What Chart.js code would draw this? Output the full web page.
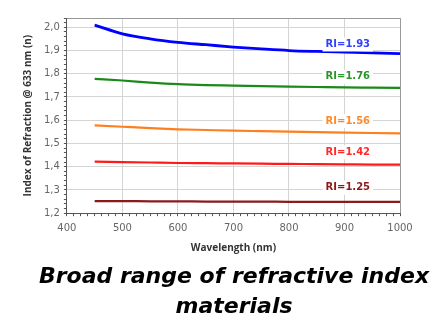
<!DOCTYPE html>
<html>
<head>
<meta charset="utf-8">
<script src="https://cdn.jsdelivr.net/npm/chart.js@4"></script>
<style>
  html, body { margin: 0; padding: 0; background: #fff; }
  #wrap { width: 446px; height: 327px; }
</style>
</head>
<body>
<div id="wrap"><canvas id="riChart" width="446" height="327"></canvas></div>
<script>
// wavelength (nm)
const wavelength = [450, 500, 550, 600, 650, 700, 750, 800, 850, 900, 950, 1000];

// refractive index per material
const ri193 = [2.009, 1.972, 1.950, 1.935, 1.925, 1.915, 1.907, 1.900, 1.896, 1.893, 1.890, 1.887];
const ri176 = [1.778, 1.771, 1.762, 1.755, 1.751, 1.749, 1.747, 1.745, 1.743, 1.741, 1.740, 1.739];
const ri156 = [1.578, 1.572, 1.566, 1.561, 1.558, 1.555, 1.553, 1.551, 1.549, 1.547, 1.545, 1.543];
const ri142 = [1.422, 1.420, 1.418, 1.416, 1.415, 1.414, 1.413, 1.412, 1.411, 1.410, 1.409, 1.409];
const ri125 = [1.252, 1.252, 1.251, 1.251, 1.250, 1.250, 1.250, 1.249, 1.249, 1.249, 1.249, 1.249];

// labels next to the curves: text, wavelength, index
const seriesLabels = ['RI=1.93', 'RI=1.76', 'RI=1.56', 'RI=1.42', 'RI=1.25'];
const labelX = [906, 906, 906, 906, 906];
const labelY = [1.926, 1.787, 1.597, 1.462, 1.31];

const colors = ['#0000ff', '#1a8a1a', '#ff7f1e', '#ff1a1a', '#8b1a1a'];
const labelColors = ['#3340ff', '#2a952a', '#ff8a2a', '#ff2a2a', '#8b1a1a'];

const toPts = arr => arr.map((v, i) => ({ x: wavelength[i], y: v }));

// ticks (major + minor)
const yTicks = [];
for (let i = 120; i <= 204; i += 2) yTicks.push({ value: i / 100 });
const xTicks = [];
for (let i = 0; i <= 48; i++) xTicks.push({ value: 400 + i * 12.5 });

// gray frame on top and right
const frameBorder = {
    id: 'frameBorder',
    beforeDatasetsDraw(chart) {
        const { ctx, chartArea: { left, top, right, bottom } } = chart;
        ctx.save();
        ctx.strokeStyle = '#999';
        ctx.lineWidth = 1;
        ctx.beginPath();
        ctx.moveTo(left, top + 0.5);
        ctx.lineTo(right + 0.5, top + 0.5);
        ctx.lineTo(right + 0.5, bottom);
        ctx.stroke();
        ctx.restore();
    }
};

// RI text labels with white box behind
const riLabels = {
    id: 'riLabels',
    afterDatasetsDraw(chart) {
        const { ctx, scales: { x, y } } = chart;
        ctx.save();
        ctx.font = 'bold 10px "DejaVu Sans"';
        ctx.textAlign = 'center';
        ctx.textBaseline = 'middle';
        seriesLabels.forEach((t, i) => {
            const px = x.getPixelForValue(labelX[i]);
            const py = y.getPixelForValue(labelY[i]);
            const w = ctx.measureText(t).width;
            ctx.fillStyle = '#fff';
            ctx.fillRect(px - w / 2 - 3, py - 7, w + 6, 14);
            ctx.fillStyle = labelColors[i];
            ctx.fillText(t, px, py);
        });
        ctx.restore();
    }
};

const mk = (data, i, w) => ({
    data: toPts(data),
    borderColor: colors[i],
    backgroundColor: colors[i],
    borderWidth: w,
    pointRadius: 0,
    fill: false,
    cubicInterpolationMode: 'monotone'
});

new Chart(document.getElementById('riChart').getContext('2d'), {
    type: 'line',
    data: {
        datasets: [
            mk(ri193, 0, 2.8),
            mk(ri176, 1, 2.2),
            mk(ri156, 2, 2.2),
            mk(ri142, 3, 2.2),
            mk(ri125, 4, 2.2)
        ]
    },
    options: {
        responsive: false,
        animation: false,
        layout: { padding: { left: 22, right: 0, top: 18, bottom: 5 } },
        plugins: {
            legend: { display: false },
            tooltip: { enabled: false },
            title: {
                display: true,
                position: 'bottom',
                fullSize: true,
                text: ['Broad range of refractive index', 'materials'],
                color: '#000',
                font: { size: 22, weight: 'bold', style: 'italic', family: '"DejaVu Sans"', lineHeight: 1.36 },
                padding: { top: 8, bottom: 0 }
            }
        },
        scales: {
            x: {
                type: 'linear',
                min: 400,
                max: 1000,
                afterBuildTicks: s => { s.ticks = xTicks.map(t => ({ value: t.value })); },
                border: { color: '#555', width: 1 },
                grid: {
                    color: c => (c.tick && c.tick.value % 100 === 0 ? '#d4d4d4' : 'rgba(0,0,0,0)'),
                    tickColor: '#555',
                    tickLength: 3
                },
                ticks: {
                    autoSkip: false,
                    maxRotation: 0,
                    padding: 6,
                    color: '#666',
                    font: { size: 10, family: '"DejaVu Sans"' },
                    callback: v => (v % 100 === 0 ? String(v) : '')
                },
                title: {
                    display: true,
                    text: 'Wavelength (nm)',
                    color: '#333',
                    font: { size: 10, weight: 'bold', family: '"Open Sans"' },
                    padding: { top: 2, bottom: 0 }
                }
            },
            y: {
                min: 1.2,
                max: 2.04,
                afterBuildTicks: s => { s.ticks = yTicks.map(t => ({ value: t.value })); },
                border: { color: '#555', width: 1 },
                grid: {
                    color: c => (c.tick && Math.round(c.tick.value * 100) % 10 === 0 ? '#d4d4d4' : 'rgba(0,0,0,0)'),
                    tickColor: '#555',
                    tickLength: 3
                },
                ticks: {
                    autoSkip: false,
                    padding: 4,
                    color: '#666',
                    font: { size: 10, family: '"DejaVu Sans"' },
                    callback: v => (Math.round(v * 100) % 10 === 0 ? v.toFixed(1).replace('.', ',') : '')
                },
                title: {
                    display: true,
                    text: 'Index of Refraction @ 633 nm (n)',
                    color: '#333',
                    font: { size: 10, weight: 'bold', family: '"Open Sans"' },
                    padding: { top: 0, bottom: 6 }
                }
            },
            // empty right-hand spacer so the plot ends at the same place
            yRight: {
                position: 'right',
                grid: { display: false },
                border: { display: false },
                ticks: { display: false },
                afterFit: s => { s.width = 46; }
            }
        }
    },
    plugins: [frameBorder, riLabels]
});
</script>
</body>
</html>
